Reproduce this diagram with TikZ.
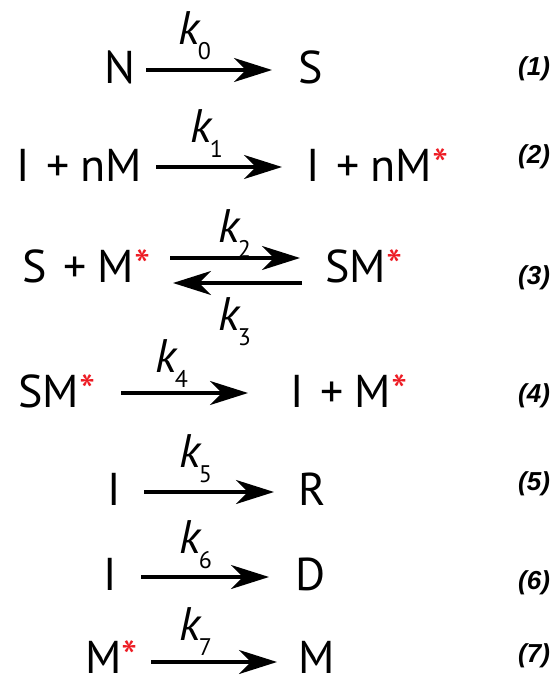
\documentclass[tikz,border=0pt]{standalone}
\usepackage{fontspec}
\setmainfont{PT Sans}
\newfontfamily\numfont{Liberation Sans}
\usetikzlibrary{arrows.meta}
\definecolor{starred}{RGB}{237,28,36}
\newcommand{\rst}{\textcolor{starred}{*}}
\newcommand{\kk}[1]{\textit{k}\kern-3pt\raisebox{-15pt}{\fontsize{24}{24}\selectfont #1}}
\newcommand{\pl}{\hspace{17pt}+\hspace{11pt}}
\begin{document}
\begin{tikzpicture}[x=1pt,y=-1pt,
  txt/.style={inner sep=0pt, anchor=base west, font=\fontsize{46}{46}\selectfont},
  ktxt/.style={inner sep=0pt, anchor=base west, font=\fontsize{47}{47}\selectfont},
  eqno/.style={inner sep=0pt, anchor=base west, font=\numfont\bfseries\itshape\fontsize{26}{26}\selectfont},
  rxn/.style={line width=3.3pt, -{Stealth[length=38pt,width=24pt,inset=12pt]}}]
\useasboundingbox (0,0) rectangle (557,677);
% Reaction 1
\node[txt] (n1l) at (104,83) {N};
\node[txt] (n1r) at (298,83) {S};
\node[ktxt] (k0) at (178,45) {\kk{0}};
\coordinate (a1s) at (146,70); \coordinate (a1e) at (272,70);
\draw[rxn] (a1s) -- (a1e);
\node[eqno] (e1) at (518,75) {(1)};
% Reaction 2
\node[txt] (n2l) at (16,181) {I\pl nM};
\node[txt] (n2r) at (306,181) {I\pl nM\rst};
\node[ktxt] (k1) at (190,142) {\kk{1}};
\coordinate (a2s) at (156,167); \coordinate (a2e) at (282,167);
\draw[rxn] (a2s) -- (a2e);
\node[eqno] (e2) at (518,163) {(2)};
% Reaction 3
\node[txt] (n3l) at (22,282) {S\pl M\rst};
\node[txt] (n3r) at (325,282) {SM\rst};
\node[ktxt] (k2) at (218,242) {\kk{2}};
\node[ktxt] (k3) at (218,330) {\kk{3}};
\coordinate (a3s) at (170,258); \coordinate (a3e) at (300,258);
\coordinate (b3s) at (302,283); \coordinate (b3e) at (173,283);
\draw[rxn] (a3s) -- (a3e);
\draw[rxn] (b3s) -- (b3e);
\node[eqno] (e3) at (518,284) {(3)};
% Reaction 4
\node[txt] (n4l) at (18,407) {SM\rst};
\node[txt] (n4r) at (290,407) {I\pl M\rst};
\node[ktxt] (k4) at (155,372) {\kk{4}};
\coordinate (a4s) at (121,393); \coordinate (a4e) at (248,393);
\draw[rxn] (a4s) -- (a4e);
\node[eqno] (e4) at (518,402) {(4)};
% Reaction 5
\node[txt] (n5l) at (107,505) {I};
\node[txt] (n5r) at (298,505) {R};
\node[ktxt] (k5) at (179,467) {\kk{5}};
\coordinate (a5s) at (144,492); \coordinate (a5e) at (274,492);
\draw[rxn] (a5s) -- (a5e);
\node[eqno] (e5) at (518,490) {(5)};
% Reaction 6
\node[txt] (n6l) at (103,590) {I};
\node[txt] (n6r) at (295,590) {D};
\node[ktxt] (k6) at (179,553) {\kk{6}};
\coordinate (a6s) at (141,577); \coordinate (a6e) at (269,577);
\draw[rxn] (a6s) -- (a6e);
\node[eqno] (e6) at (518,589) {(6)};
% Reaction 7
\node[txt] (n7l) at (85,673) {M\rst};
\node[txt] (n7r) at (298,673) {M};
\node[ktxt] (k7) at (179,640) {\kk{7}};
\coordinate (a7s) at (151,662); \coordinate (a7e) at (277,662);
\draw[rxn] (a7s) -- (a7e);
\node[eqno] (e7) at (518,662) {(7)};
\end{tikzpicture}
\end{document}
